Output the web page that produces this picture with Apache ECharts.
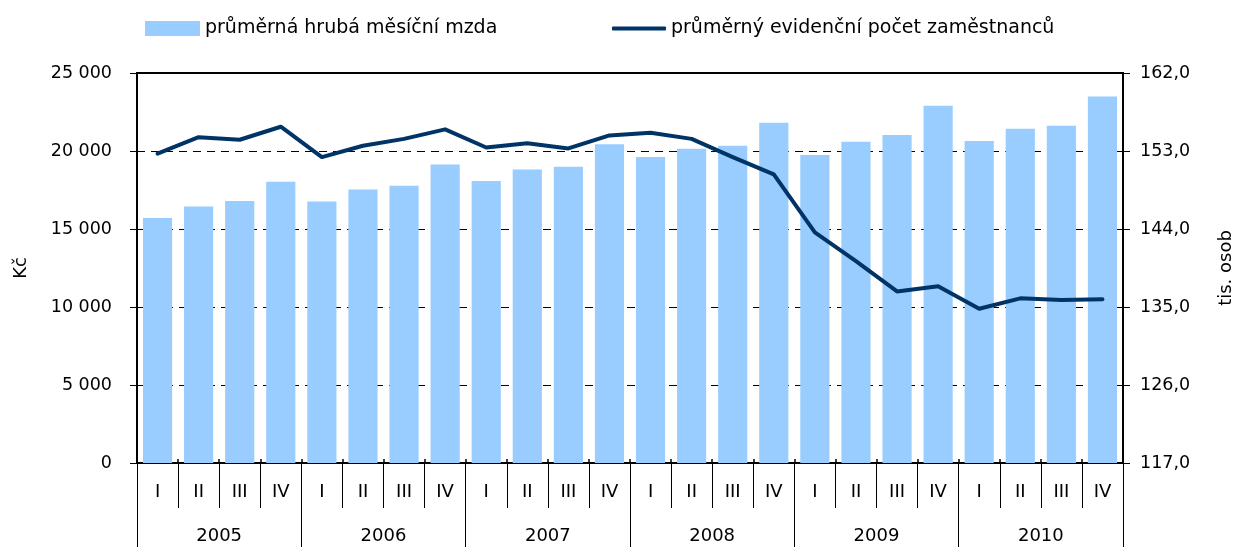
<!DOCTYPE html>
<html>
<head>
<meta charset="utf-8">
<script src="https://cdn.jsdelivr.net/npm/echarts@6/dist/echarts.min.js"></script>
<style>
  html, body { margin: 0; padding: 0; background: #fff; overflow: hidden; }
  #main { width: 1234px; height: 547px; }
</style>
</head>
<body>
<div id="main"></div>
<script>
var quarters = ['I', 'II', 'III', 'IV', 'I', 'II', 'III', 'IV', 'I', 'II', 'III', 'IV',
                'I', 'II', 'III', 'IV', 'I', 'II', 'III', 'IV', 'I', 'II', 'III', 'IV'];
var years = ['2005', '2006', '2007', '2008', '2009', '2010'];

// průměrná hrubá měsíční mzda (Kč)
var wages = [15700, 16450, 16800, 18030, 16770, 17540, 17780, 19140,
             18080, 18820, 18990, 20430, 19620, 20150, 20340, 21810,
             19740, 20600, 21030, 22900, 20640, 21430, 21620, 23500];

// průměrný evidenční počet zaměstnanců (tis. osob)
var employees = [152.7, 154.6, 154.3, 155.8, 152.3, 153.6, 154.4, 155.5,
                 153.4, 153.9, 153.3, 154.8, 155.1, 154.4, 152.3, 150.3,
                 143.6, 140.3, 136.8, 137.4, 134.8, 136.0, 135.8, 135.9];

var barName = 'průměrná hrubá měsíční mzda';
var lineName = 'průměrný evidenční počet zaměstnanců';

var font = 'DejaVu Sans, Liberation Sans, Arial, sans-serif';

function kc(v) {
    return String(v).replace(/\B(?=(\d{3})+(?!\d))/g, ' ');
}
function osob(v) {
    return v.toFixed(1).replace('.', ',');
}

var chart = echarts.init(document.getElementById('main'));
chart.setOption({
    animation: false,
    textStyle: { fontFamily: font, color: '#000' },
    legend: [
        {
            data: [{ name: barName, icon: 'rect' }],
            left: 140, top: 14,
            itemWidth: 55, itemHeight: 15, itemGap: 5,
            textStyle: { fontSize: 19, color: '#000', fontFamily: font }
        },
        {
            data: [{ name: lineName, icon: 'roundRect' }],
            left: 607, top: 14,
            itemWidth: 54, itemHeight: 4, itemGap: 5,
            textStyle: { fontSize: 19, color: '#000', fontFamily: font }
        }
    ],
    grid: {
        left: 137, right: 111, top: 73, bottom: 84,
        show: true, borderColor: '#000', borderWidth: 2,
        containLabel: false,
        outerBoundsMode: 'none'
    },
    xAxis: [
        {
            type: 'category',
            data: quarters,
            axisLine: { lineStyle: { color: '#000', width: 1.5 } },
            axisTick: { show: true, interval: 0, length: 45, lineStyle: { color: '#000' } },
            axisLabel: { interval: 0, margin: 20, fontSize: 18, color: '#000' }
        },
        {
            type: 'category',
            position: 'bottom',
            data: years,
            axisLine: { show: false },
            axisTick: { show: true, interval: 0, length: 84, lineStyle: { color: '#000' } },
            axisLabel: { interval: 0, margin: 64, fontSize: 18, color: '#000' }
        },
        {
            // short inner ticks crossing the baseline
            type: 'category',
            position: 'bottom',
            data: quarters,
            axisLine: { show: false },
            axisTick: { show: true, inside: true, interval: 0, length: 4, lineStyle: { color: '#000', width: 1.5 } },
            axisLabel: { show: false }
        }
    ],
    yAxis: [
        {
            type: 'value',
            min: 0, max: 25000, interval: 5000,
            name: 'Kč',
            nameLocation: 'middle', nameRotate: 90, nameGap: 107,
            nameTextStyle: { fontSize: 18, color: '#000' },
            axisLine: { show: true, lineStyle: { color: '#000', width: 2 } },
            axisTick: { show: true, length: 7, lineStyle: { color: '#000' } },
            axisLabel: { margin: 25, fontSize: 17.5, color: '#000', formatter: kc },
            splitLine: { show: true, lineStyle: { color: '#000', type: [8, 6], width: 1 } }
        },
        {
            type: 'value',
            min: 117, max: 162, interval: 9,
            name: 'tis. osob',
            nameLocation: 'middle', nameRotate: 90, nameGap: 94,
            nameTextStyle: { fontSize: 18, color: '#000' },
            axisLine: { show: true, lineStyle: { color: '#000', width: 2 } },
            axisTick: { show: true, length: 7, lineStyle: { color: '#000' } },
            axisLabel: { margin: 17, fontSize: 17.5, color: '#000', formatter: osob },
            splitLine: { show: false }
        },
        {
            // inner half of the crossing ticks, left
            type: 'value', position: 'left',
            min: 0, max: 25000, interval: 5000,
            axisLine: { show: false },
            axisTick: { show: true, inside: true, length: 8, lineStyle: { color: '#000' } },
            axisLabel: { show: false },
            splitLine: { show: false }
        },
        {
            // inner half of the crossing ticks, right
            type: 'value', position: 'right',
            min: 117, max: 162, interval: 9,
            axisLine: { show: false },
            axisTick: { show: true, inside: true, length: 8, lineStyle: { color: '#000' } },
            axisLabel: { show: false },
            splitLine: { show: false }
        }
    ],
    series: [
        {
            name: barName,
            type: 'bar',
            xAxisIndex: 0, yAxisIndex: 0,
            data: wages,
            barCategoryGap: '29%',
            itemStyle: { color: '#99CCFF' }
        },
        {
            name: lineName,
            type: 'line',
            xAxisIndex: 0, yAxisIndex: 1,
            data: employees,
            symbol: 'none',
            lineStyle: { color: '#003366', width: 4, cap: 'round', join: 'round' },
            itemStyle: { color: '#003366' }
        }
    ]
});
</script>
</body>
</html>
